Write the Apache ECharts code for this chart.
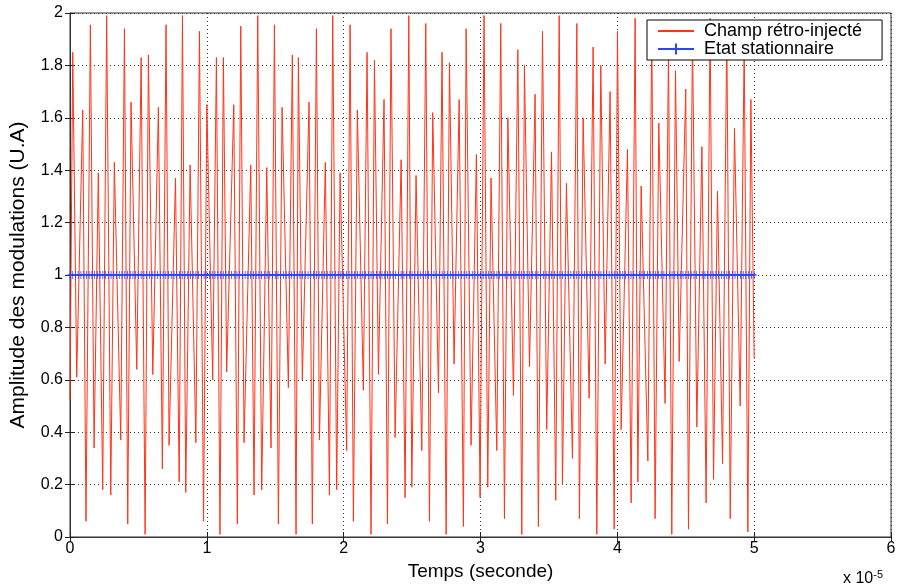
<!DOCTYPE html>
<html>
<head>
<meta charset="utf-8">
<script src="https://cdn.jsdelivr.net/npm/echarts@6/dist/echarts.min.js"></script>
<style>html,body{margin:0;padding:0;background:#fff}#c{width:897px;height:586px}</style>
</head>
<body>
<div id="c"></div>
<script>
// Red signal: successive peaks and troughs (time in units of 1e-5 s)
const champTime = [
0,0.020,0.049,0.093,0.117,0.149,0.176,0.207,0.239,0.268,0.298,0.324,0.371,0.398,0.422,0.446,0.488,0.520,0.549,0.573,0.605,0.646,0.675,0.702,0.724,0.771,0.798,0.822,0.846,0.878,0.920,0.946,0.976,1.000,
1.043,1.070,1.096,1.121,1.145,1.197,1.223,1.248,1.272,1.321,1.345,1.372,1.401,1.438,1.469,1.494,1.523,1.550,1.596,1.625,1.652,1.669,1.698,1.747,1.771,1.801,1.823,1.866,1.896,1.920,1.949,1.974,
2.022,2.047,2.071,2.100,2.144,2.171,2.200,2.225,2.254,2.295,2.320,2.346,2.376,2.420,2.449,2.476,2.498,2.529,2.571,2.600,2.627,2.651,2.693,2.719,2.749,2.773,2.807,2.844,2.875,2.895,2.931,2.970,2.997,3.026,3.053,
3.077,3.119,3.148,3.175,3.200,3.241,3.273,3.302,3.321,3.358,3.399,3.423,3.453,3.484,3.519,3.550,3.575,3.599,3.628,3.672,3.704,3.723,3.750,3.794,3.823,3.850,3.879,3.911,3.947,3.977,4.001,
4.028,4.074,4.101,4.130,4.150,4.174,4.223,4.252,4.276,4.303,4.349,4.374,4.398,4.425,4.452,4.500,4.520,4.549,4.581,4.618,4.649,4.678,4.703,4.732,4.769,4.800,4.825,4.856,4.898,4.927,4.954,4.976,5.000
];
const champAmp = [
0.52,1.85,0.61,1.63,0.06,1.955,0.34,1.39,0.18,1.99,0.16,1.43,0.37,1.94,0.05,1.66,0.64,1.83,0.01,1.84,0.62,1.64,0.26,1.955,0.35,1.37,0.21,1.99,0.17,1.42,0.36,1.93,0.06,1.65,
0.60,1.83,0.01,1.83,0.63,1.65,0.05,1.95,0.36,1.42,0.16,1.99,0.18,1.41,0.34,1.955,0.05,1.64,0.57,1.84,0.01,1.83,0.60,1.66,0.05,1.94,0.37,1.43,0.16,1.99,0.18,1.39,
0.33,1.955,0.06,1.63,0.56,1.85,0.01,1.82,0.62,1.67,0.05,1.94,0.38,1.44,0.15,1.99,0.19,1.38,0.33,1.96,0.06,1.62,0.55,1.85,0.01,1.81,0.66,1.67,0.04,1.94,0.35,1.46,0.15,1.99,0.19,
1.37,0.33,1.96,0.07,1.60,0.54,1.86,0.01,1.80,0.65,1.69,0.04,1.93,0.41,1.47,0.14,1.99,0.20,1.35,0.30,1.96,0.07,1.60,0.53,1.87,0.01,1.80,0.66,1.70,0.03,1.93,
0.41,1.48,0.13,1.98,0.21,1.34,0.29,1.94,0.07,1.58,0.51,1.87,0.01,1.78,0.67,1.71,0.03,1.92,0.42,1.49,0.13,1.98,0.22,1.32,0.28,1.95,0.07,1.56,0.50,1.88,0.02,1.67,0.68
];
// Blue steady state: marker times and values
const stationTime = [
0,0.02,0.04,0.06,0.08,0.1,0.12,0.14,0.16,0.18,
0.2,0.22,0.24,0.26,0.28,0.3,0.32,0.34,0.36,0.38,
0.4,0.42,0.44,0.46,0.48,0.5,0.52,0.54,0.56,0.58,
0.6,0.62,0.64,0.66,0.68,0.7,0.72,0.74,0.76,0.78,
0.8,0.82,0.84,0.86,0.88,0.9,0.92,0.94,0.96,0.98,
1,1.02,1.04,1.06,1.08,1.1,1.12,1.14,1.16,1.18,
1.2,1.22,1.24,1.26,1.28,1.3,1.32,1.34,1.36,1.38,
1.4,1.42,1.44,1.46,1.48,1.5,1.52,1.54,1.56,1.58,
1.6,1.62,1.64,1.66,1.68,1.7,1.72,1.74,1.76,1.78,
1.8,1.82,1.84,1.86,1.88,1.9,1.92,1.94,1.96,1.98,
2,2.02,2.04,2.06,2.08,2.1,2.12,2.14,2.16,2.18,
2.2,2.22,2.24,2.26,2.28,2.3,2.32,2.34,2.36,2.38,
2.4,2.42,2.44,2.46,2.48,2.5,2.52,2.54,2.56,2.58,
2.6,2.62,2.64,2.66,2.68,2.7,2.72,2.74,2.76,2.78,
2.8,2.82,2.84,2.86,2.88,2.9,2.92,2.94,2.96,2.98,
3,3.02,3.04,3.06,3.08,3.1,3.12,3.14,3.16,3.18,
3.2,3.22,3.24,3.26,3.28,3.3,3.32,3.34,3.36,3.38,
3.4,3.42,3.44,3.46,3.48,3.5,3.52,3.54,3.56,3.58,
3.6,3.62,3.64,3.66,3.68,3.7,3.72,3.74,3.76,3.78,
3.8,3.82,3.84,3.86,3.88,3.9,3.92,3.94,3.96,3.98,
4,4.02,4.04,4.06,4.08,4.1,4.12,4.14,4.16,4.18,
4.2,4.22,4.24,4.26,4.28,4.3,4.32,4.34,4.36,4.38,
4.4,4.42,4.44,4.46,4.48,4.5,4.52,4.54,4.56,4.58,
4.6,4.62,4.64,4.66,4.68,4.7,4.72,4.74,4.76,4.78,
4.8,4.82,4.84,4.86,4.88,4.9,4.92,4.94,4.96,4.98,
5
];
const stationAmp = [
1,1,1,1,1,1,1,1,1,1, 1,1,1,1,1,1,1,1,1,1, 1,1,1,1,1,1,1,1,1,1, 1,1,1,1,1,1,1,1,1,1, 1,1,1,1,1,1,1,1,1,1,
1,1,1,1,1,1,1,1,1,1, 1,1,1,1,1,1,1,1,1,1, 1,1,1,1,1,1,1,1,1,1, 1,1,1,1,1,1,1,1,1,1, 1,1,1,1,1,1,1,1,1,1,
1,1,1,1,1,1,1,1,1,1, 1,1,1,1,1,1,1,1,1,1, 1,1,1,1,1,1,1,1,1,1, 1,1,1,1,1,1,1,1,1,1, 1,1,1,1,1,1,1,1,1,1,
1,1,1,1,1,1,1,1,1,1, 1,1,1,1,1,1,1,1,1,1, 1,1,1,1,1,1,1,1,1,1, 1,1,1,1,1,1,1,1,1,1, 1,1,1,1,1,1,1,1,1,1,
1,1,1,1,1,1,1,1,1,1, 1,1,1,1,1,1,1,1,1,1, 1,1,1,1,1,1,1,1,1,1, 1,1,1,1,1,1,1,1,1,1, 1,1,1,1,1,1,1,1,1,1,
1
];
const seriesNames = ['Champ rétro-injecté', 'Etat stationnaire'];
const xTicks = [0, 6, 1];   // min, max, interval
const yTicks = [0, 2, 0.2];
const xName = 'Temps (seconde)';
const yName = 'Amplitude des modulations (U.A)';

const FONT = '"Liberation Sans", Arial, Helvetica, sans-serif';
const RED = '#ff3418';
const BLUE = '#2a45ff';
const chart = echarts.init(document.getElementById('c'), null, {renderer: 'canvas'});
const zip = (a, b) => a.map((v, i) => [v, b[i]]);
const grid = {left: 70, right: 6, top: 13, bottom: 49, show: true, borderColor: '#333', borderWidth: 1, outerBoundsMode: 'none', containLabel: false};
const tickStyle = {show: true, inside: true, length: 5, lineStyle: {color: '#222', width: 1}};
const splitStyle = {show: true, lineStyle: {color: '#333', width: 1, type: [1, 3]}};
chart.setOption({
  animation: false,
  backgroundColor: '#fff',
  grid: grid,
  xAxis: [
    {type: 'value', min: xTicks[0], max: xTicks[1], interval: xTicks[2], position: 'bottom',
     name: xName, nameLocation: 'middle', nameGap: 22,
     nameTextStyle: {fontFamily: FONT, fontSize: 19, color: '#000'},
     axisLine: {show: true, lineStyle: {color: '#333'}}, axisTick: tickStyle,
     axisLabel: {fontFamily: FONT, fontSize: 16, color: '#000', margin: 4},
     splitLine: splitStyle},
    {type: 'value', min: xTicks[0], max: xTicks[1], interval: xTicks[2], position: 'top',
     axisLine: {show: true, lineStyle: {color: '#333'}}, axisTick: tickStyle,
     axisLabel: {show: false}, splitLine: {show: false}}
  ],
  yAxis: [
    {type: 'value', min: yTicks[0], max: yTicks[1], interval: yTicks[2], position: 'left',
     name: yName, nameLocation: 'middle', nameGap: 41, nameRotate: 90,
     nameTextStyle: {fontFamily: FONT, fontSize: 21, color: '#000'},
     axisLine: {show: true, lineStyle: {color: '#333'}}, axisTick: tickStyle,
     axisLabel: {fontFamily: FONT, fontSize: 16, color: '#000', margin: 7},
     splitLine: splitStyle},
    {type: 'value', min: yTicks[0], max: yTicks[1], interval: yTicks[2], position: 'right',
     axisLine: {show: true, lineStyle: {color: '#333'}}, axisTick: tickStyle,
     axisLabel: {show: false}, splitLine: {show: false}}
  ],
  legend: {
    left: 647, top: 20, orient: 'vertical',
    backgroundColor: '#fff', borderColor: '#000', borderWidth: 1, borderRadius: 0,
    padding: [2, 20, 2, 10], itemGap: 0, itemWidth: 36, itemHeight: 14,
    textStyle: {fontFamily: FONT, fontSize: 18, lineHeight: 17, color: '#000', padding: [0, 0, 0, 5]},
    data: [
      {name: seriesNames[0], itemStyle: {opacity: 0}},
      {name: seriesNames[1]}
    ]
  },
  graphic: [{
    type: 'text', left: 843, top: 569,
    style: {text: 'x 10{s|-5}', fontFamily: FONT, fontSize: 16, fill: '#000',
      rich: {s: {fontSize: 11, verticalAlign: 'top', fontFamily: FONT, padding: [0, 0, 9, 0]}}}
  }],
  series: [
    {name: seriesNames[0], type: 'line', symbol: 'none', showSymbol: false,
     data: zip(champTime, champAmp),
     lineStyle: {color: RED, width: 1}, itemStyle: {color: RED}, z: 2},
    {name: seriesNames[1], type: 'line',
     symbol: 'path://M0,4L8,4M4,0L4,8', symbolSize: [5, 8], showSymbol: true,
     data: zip(stationTime, stationAmp),
     lineStyle: {color: BLUE, width: 1.5},
     itemStyle: {color: BLUE, borderColor: BLUE, borderWidth: 1}, z: 3}
  ]
});
</script>
</body>
</html>
